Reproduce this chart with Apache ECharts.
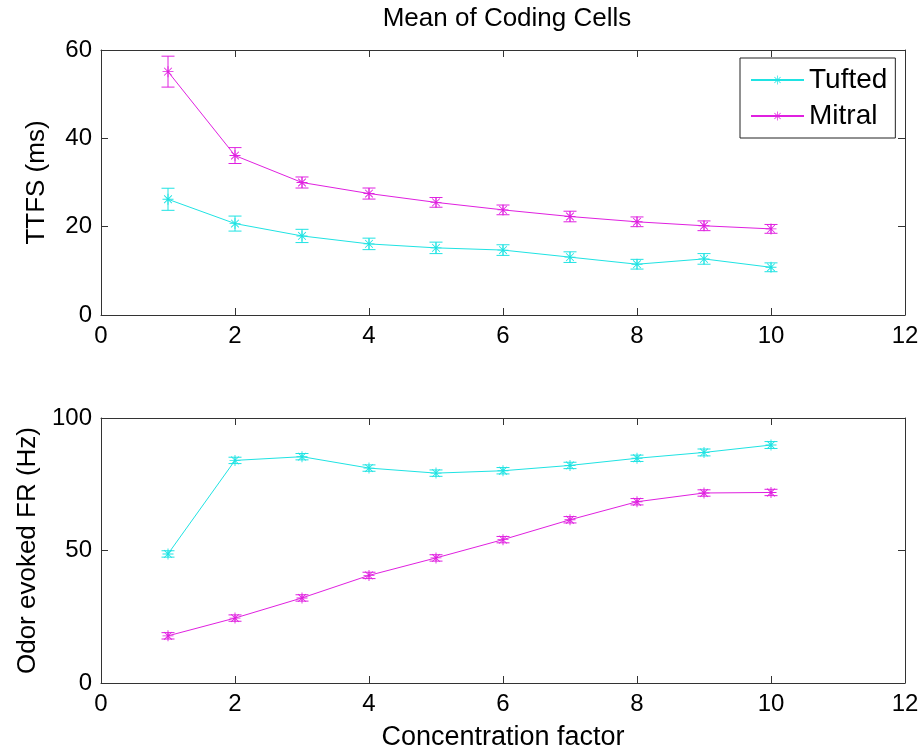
<!DOCTYPE html>
<html>
<head>
<meta charset="utf-8">
<script src="https://cdn.jsdelivr.net/npm/echarts@6/dist/echarts.min.js"></script>
<style>html,body{margin:0;padding:0;background:#fff}#c{width:923px;height:750px}</style>
</head>
<body>
<div id="c"></div>
<script>
var concentration = [1, 2, 3, 4, 5, 6, 7, 8, 9, 10];
var xTicks = [0, 2, 4, 6, 8, 10, 12];
var ttfsTufted = [26.2, 20.7, 17.9, 16.1, 15.2, 14.7, 13.1, 11.5, 12.7, 10.8];
var ttfsTuftedErr = [2.5, 1.7, 1.5, 1.3, 1.3, 1.2, 1.2, 1.1, 1.2, 1.0];
var ttfsMitral = [55.1, 36.1, 30.0, 27.5, 25.5, 23.8, 22.3, 21.1, 20.2, 19.5];
var ttfsMitralErr = [3.5, 1.8, 1.25, 1.25, 1.1, 1.1, 1.2, 1.1, 1.1, 1.0];
var frTufted = [48.7, 84.0, 85.4, 81.1, 79.2, 80.1, 82.1, 84.8, 87.0, 89.8];
var frTuftedErr = [1.2, 1.2, 1.2, 1.2, 1.2, 1.2, 1.2, 1.2, 1.3, 1.3];
var frMitral = [17.8, 24.5, 32.1, 40.6, 47.2, 54.1, 61.6, 68.4, 71.7, 71.9];
var frMitralErr = [1.2, 1.2, 1.2, 1.2, 1.2, 1.2, 1.2, 1.2, 1.2, 1.2];

var CYAN = '#1fe3e3', MAG = '#e020e0';
var FONT = 'Liberation Sans';
var t = 0.08;
var ASTER = 'path://M-' + t + ',-1L' + t + ',-1L' + t + ',1L-' + t + ',1Z' +
  'M-1,-' + t + 'L1,-' + t + 'L1,' + t + 'L-1,' + t + 'Z' +
  'M-0.643,-0.757L0.757,0.643L0.643,0.757L-0.757,-0.643Z' +
  'M-0.757,0.643L0.643,-0.757L0.757,-0.643L-0.643,0.757Z';

function pts(ys) { return concentration.map(function (x, i) { return [x, ys[i]]; }); }
function errData(ys, es) { return concentration.map(function (x, i) { return [x, ys[i] - es[i], ys[i] + es[i]]; }); }

function errSeries(ys, es, color, idx) {
  return {
    type: 'custom', xAxisIndex: idx, yAxisIndex: idx, silent: true, z: 3,
    data: errData(ys, es),
    renderItem: function (params, api) {
      var lo = api.coord([api.value(0), api.value(1)]);
      var hi = api.coord([api.value(0), api.value(2)]);
      var w = 6.5;
      var st = { stroke: color, lineWidth: 1 };
      return { type: 'group', children: [
        { type: 'line', shape: { x1: lo[0], y1: lo[1], x2: hi[0], y2: hi[1] }, style: st },
        { type: 'line', shape: { x1: lo[0] - w, y1: lo[1], x2: lo[0] + w, y2: lo[1] }, style: st },
        { type: 'line', shape: { x1: hi[0] - w, y1: hi[1], x2: hi[0] + w, y2: hi[1] }, style: st }
      ]};
    }
  };
}
function lineSeries(name, ys, color, idx) {
  return {
    name: name, type: 'line', xAxisIndex: idx, yAxisIndex: idx, data: pts(ys),
    symbol: ASTER, symbolSize: 11, showSymbol: true, z: 4,
    color: color, itemStyle: { color: color },
    lineStyle: { color: color, width: 1 }, animation: false
  };
}

function axisBase(gi, min, max, interval) {
  return {
    type: 'value', gridIndex: gi, min: min, max: max, interval: interval,
    axisLine: { show: true, onZero: false, lineStyle: { color: '#333', width: 1 } },
    axisTick: { show: true, inside: true, length: 7, lineStyle: { color: '#333' } },
    splitLine: { show: false }
  };
}
function xAxes(gi, withName) {
  var bottom = Object.assign(axisBase(gi, 0, 12, 2), {
    position: 'bottom',
    axisLabel: { fontFamily: FONT, fontSize: 24, color: '#000', margin: 9,
      formatter: function (v) { return xTicks.indexOf(v) >= 0 ? String(v) : ''; } }
  });
  if (withName) {
    bottom.name = 'Concentration factor';
    bottom.nameLocation = 'middle';
    bottom.nameGap = 41;
    bottom.nameTextStyle = { fontFamily: FONT, fontSize: 27, color: '#000' };
  }
  var top = Object.assign(axisBase(gi, 0, 12, 2), { position: 'top', axisLabel: { show: false } });
  return [bottom, top];
}
function yAxes(gi, max, interval, name) {
  var left = Object.assign(axisBase(gi, 0, max, interval), {
    position: 'left', name: name, nameLocation: 'middle', nameGap: 51, nameRotate: 90,
    nameTextStyle: { fontFamily: FONT, fontSize: 26, color: '#000' },
    axisLabel: { fontFamily: FONT, fontSize: 24, color: '#000', margin: 9 }
  });
  var right = Object.assign(axisBase(gi, 0, max, interval), { position: 'right', axisLabel: { show: false } });
  return [left, right];
}

var xa0 = xAxes(0, false), xa1 = xAxes(1, true);
var ya0 = yAxes(0, 60, 20, 'TTFS (ms)'), ya1 = yAxes(1, 100, 50, 'Odor evoked FR (Hz)');

var option = {
  animation: false,
  backgroundColor: '#fff',
  textStyle: { fontFamily: FONT },
  title: {
    text: 'Mean of Coding Cells', left: 502, top: 1, textAlign: 'center',
    textStyle: { fontFamily: FONT, fontSize: 26, fontWeight: 'normal', color: '#000' }
  },
  legend: {
    data: ['Tufted', 'Mitral'], orient: 'vertical', left: 740, top: 58,
    backgroundColor: '#fff', borderColor: '#222', borderWidth: 1, borderRadius: 0,
    padding: [8, 8, 8, 10], itemWidth: 53, itemHeight: 11, itemGap: 8,
    textStyle: { fontFamily: FONT, fontSize: 28, color: '#000' },
    selectedMode: false
  },
  grid: [
    { left: 101, right: 18, top: 50, height: 265, containLabel: false, outerBoundsMode: 'none' },
    { left: 101, right: 18, top: 418, height: 265, containLabel: false, outerBoundsMode: 'none' }
  ],
  xAxis: [xa0[0], xa1[0], xa0[1], xa1[1]],
  yAxis: [ya0[0], ya1[0], ya0[1], ya1[1]],
  series: [
    lineSeries('Tufted', ttfsTufted, CYAN, 0),
    lineSeries('Mitral', ttfsMitral, MAG, 0),
    errSeries(ttfsTufted, ttfsTuftedErr, CYAN, 0),
    errSeries(ttfsMitral, ttfsMitralErr, MAG, 0),
    lineSeries('Tufted', frTufted, CYAN, 1),
    lineSeries('Mitral', frMitral, MAG, 1),
    errSeries(frTufted, frTuftedErr, CYAN, 1),
    errSeries(frMitral, frMitralErr, MAG, 1)
  ]
};
var chart = echarts.init(document.getElementById('c'), null, { renderer: 'canvas' });
chart.setOption(option);
</script>
</body>
</html>
